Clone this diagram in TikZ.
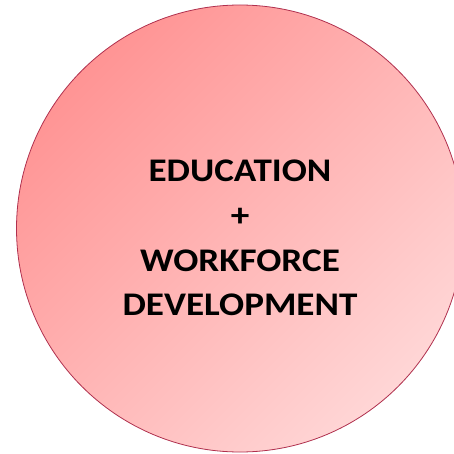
\documentclass[tikz,border=0pt]{standalone}
\usepackage{fontspec}
\setmainfont{Carlito}
\definecolor{gradA}{HTML}{FF9494}
\definecolor{gradB}{HTML}{FFD6D6}
\definecolor{rim}{HTML}{B0304E}
\tikzset{
  bubble/.style={circle, minimum size=447pt, inner sep=0pt, draw=rim, line width=0.8pt,
    left color=gradA, right color=gradB, shading angle=45},
  label/.style={align=center, font=\fontsize{33}{44.7}\selectfont\bfseries, text=black,
    xscale=1.125, transform shape}
}
\begin{document}
\begin{tikzpicture}[x=1pt,y=1pt]
\useasboundingbox (0,0) rectangle (454,453);
\clip (0,0) rectangle (454,453);
\node[bubble] (c) at (240,224.5) {};
\node[label] (t) at (240,215) {EDUCATION\\+\\WORKFORCE\\DEVELOPMENT};
\end{tikzpicture}
\end{document}
